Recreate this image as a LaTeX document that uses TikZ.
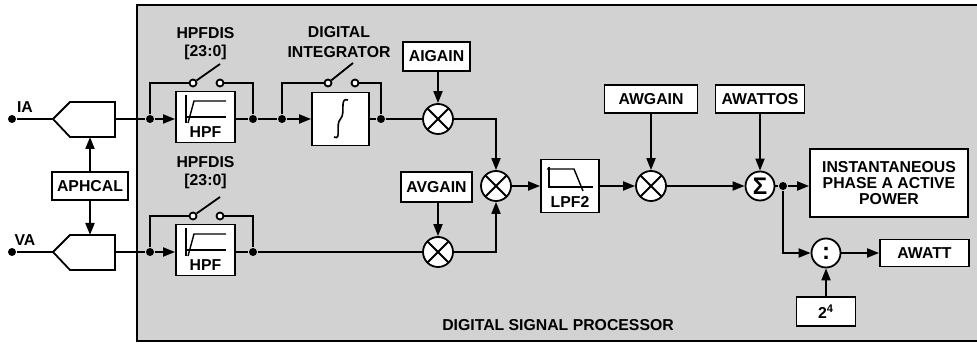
\documentclass[tikz,border=0pt]{standalone}
\usepackage{fontspec}
\setmainfont{Liberation Sans}
\usetikzlibrary{arrows.meta,calc,positioning}
\tikzset{>={Triangle[length=6pt,width=4.5pt]}}
\definecolor{dspgray}{RGB}{210,210,210}

\begin{document}
\begin{tikzpicture}[x=0.5pt,y=-0.5pt,line width=0.9pt,
    font=\fontsize{7.9}{7.9}\selectfont\bfseries,
    blk/.style={draw,fill=white,inner sep=0pt,align=center},
    mult/.style={circle,draw,fill=white,minimum size=15pt,inner sep=0pt,
      path picture={\draw (path picture bounding box.north west) -- (path picture bounding box.south east)
        (path picture bounding box.north east) -- (path picture bounding box.south west);}},
    sumc/.style={circle,draw,fill=white,minimum size=14.5pt,inner sep=0pt},
    dot/.style={circle,fill,inner sep=0pt,minimum size=4pt},
    swc/.style={circle,draw,fill=white,inner sep=0pt,minimum size=3.5pt}]

  \useasboundingbox (0,0) rectangle (977,346);
  \fill[dspgray] (137,5) rectangle (990,341);
  \draw (137,5) rectangle (990,341);

  % the two input channels
  \foreach \y/\n/\lab/\t in {119/I/IA/33, 252/V/VA/162}
    {
      \node[dot] (in\n) at (12,\y) {};
      \node at (25,\y-12) {\lab};
      \draw[fill=white] (53,\y) -- (70,\y-17) -- (115,\y-17) -- (115,\y+18) -- (70,\y+18) -- cycle;
      \coordinate (adc\n w) at (53,\y);
      \coordinate (adc\n e) at (115,\y);
      \coordinate (adc\n n) at (90,\y-17);
      \coordinate (adc\n s) at (90,\y+18);
      \draw (in\n) -- (adc\n w);
      \node[dot] (hl\n) at (150,\y) {};
      \node[blk,minimum width=29.5pt,minimum height=25.5pt] (hpf\n) at (205.5,\y-2) {};
      \node at (205.5,\y+13) {HPF};
      \draw[line width=0.7pt] (186,\y-24) -- (186,\y+4);
      \draw[line width=0.7pt] (188,\y+4) -- (194,\y-18) -- (226,\y-18);
      \draw[line width=0.7pt] (186,\y-2) -- (226,\y-2);
      \node[dot] (hr\n) at (253,\y) {};
      \node[swc] (sl\n) at (193,\y-36) {};
      \node[swc] (sr\n) at (220,\y-36) {};
      \draw (sl\n) -- (220,\y-55);
      \draw (adc\n e) -- (hl\n);
      \draw[->] (hl\n) -- (hpf\n.west |- hl\n);
      \draw (hpf\n.east |- hr\n) -- (hr\n);
      \draw (hl\n) |- (sl\n);
      \draw (sr\n) -| (hr\n);
      \node at (205.5,\t) {HPFDIS};
      \node at (205.5,\t+19) {[23:0]};
    }

  \node[blk,minimum width=38pt,minimum height=14pt] (aphcal) at (90,186) {APHCAL};
  \draw[->] (aphcal) -- (adcIs);
  \draw[->] (aphcal) -- (adcVn);

  % integrator
  \node[dot] (il) at (282,119) {};
  \node[blk,minimum width=28.5pt,minimum height=26.5pt] (integ) at (340.5,119) {};
  \draw[line width=0.8pt] (334,137) .. controls (342,141) and (335,124) .. (340.5,119)
    .. controls (346,113) and (339,97) .. (348,100);
  \node[dot] (ir) at (381,119) {};
  \node[swc] (isl) at (328,83) {};
  \node[swc] (isr) at (355,83) {};
  \draw (isl) -- (353,63);
  \draw (hrI) -- (il);
  \draw[->] (il) -- (integ);
  \draw (integ) -- (ir);
  \draw (il) |- (isl);
  \draw (isr) -| (ir);
  \node at (339,32) {DIGITAL};
  \node at (339,52) {INTEGRATOR};

  % gains
  \node[mult] (mi) at (438,119) {};
  \node[blk,minimum width=33.5pt,minimum height=14.5pt] (aigain) at (436.5,56.5) {AIGAIN};
  \draw[->] (aigain.south -| mi) -- (mi);
  \draw (ir) -- (mi);
  \node[mult] (mv) at (438,252) {};
  \node[blk,minimum width=35.5pt,minimum height=15pt] (avgain) at (436.5,187) {AVGAIN};
  \draw[->] (avgain.south -| mv) -- (mv);
  \draw (hrV) -- (mv);
  \node[mult] (mc) at (496,186) {};
  \draw[->] (mi) -| (mc);
  \draw[->] (mv) -| (mc);

  % low pass filter
  \node[blk,minimum width=29pt,minimum height=26.5pt] (lpf) at (570,186) {};
  \node at (570,202) {LPF2};
  \draw[line width=0.7pt] (549,167) -- (549,187) -- (593,187);
  \draw[line width=0.7pt] (547,169) -- (574,169) -- (583,191);
  \draw[->] (mc) -- (lpf);

  \node[mult] (mw) at (651,186) {};
  \node[blk,minimum width=46.5pt,minimum height=14pt] (awgain) at (651,99) {AWGAIN};
  \draw[->] (awgain) -- (mw);
  \draw[->] (lpf) -- (mw);

  \node[sumc,font=\fontsize{12}{12}\selectfont\bfseries] (sum) at (760,186) {Σ};
  \node[blk,minimum width=44.5pt,minimum height=14pt] (awattos) at (760,99) {AWATTOS};
  \draw[->] (awattos) -- (sum);
  \draw[->] (mw) -- (sum);
  \node[dot] (so) at (783,186) {};
  \draw (sum) -- (so);
  \node[blk,minimum width=79pt,minimum height=34pt] (inst) at (889,183) {INSTANTANEOUS\\PHASE A ACTIVE\\POWER};
  \draw[->] (so) -- (inst.west |- so);

  % divider
  \node[sumc,font=\fontsize{12}{12}\selectfont\bfseries] (div) at (826,253) {:};
  \draw[->] (so) |- (div);
  \node[blk,minimum width=44.5pt,minimum height=13.5pt] (awatt) at (924.5,253) {AWATT};
  \draw[->] (div) -- (awatt);
  \node[blk,minimum width=29.5pt,minimum height=14.5pt] (pow) at (826,311.5) {2\textsuperscript{4}};
  \draw[->] (pow) -- (div);

  \node at (558,325) {DIGITAL SIGNAL PROCESSOR};
\end{tikzpicture}
\end{document}
